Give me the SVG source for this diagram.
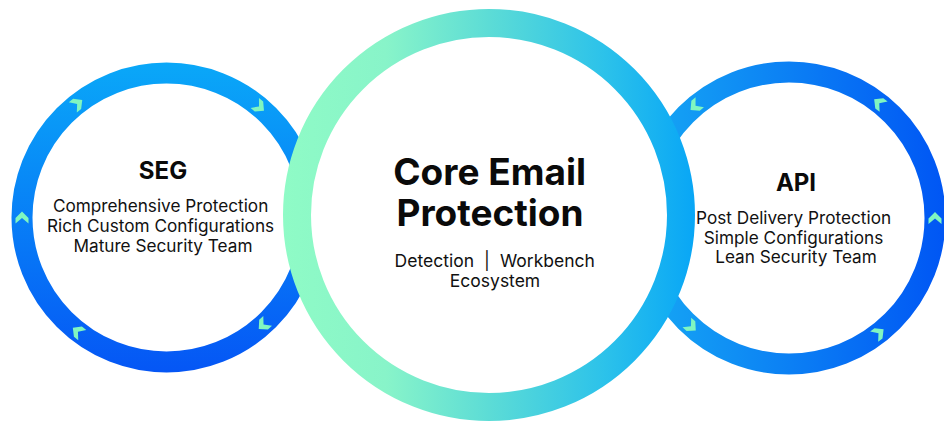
<svg xmlns="http://www.w3.org/2000/svg" width="944" height="421" viewBox="0 0 944 421">
  <defs>
    <linearGradient id="gLeft" x1="0" y1="62" x2="0" y2="373" gradientUnits="userSpaceOnUse">
      <stop offset="0" stop-color="#0aa8f8"/>
      <stop offset="1" stop-color="#0556f5"/>
    </linearGradient>
    <linearGradient id="gRight" x1="640" y1="0" x2="944" y2="0" gradientUnits="userSpaceOnUse">
      <stop offset="0" stop-color="#16a8f4"/>
      <stop offset="1" stop-color="#0056f4"/>
    </linearGradient>
    <linearGradient id="gCore" x1="283" y1="0" x2="695" y2="0" gradientUnits="userSpaceOnUse">
      <stop offset="0" stop-color="#8ffbc6"/>
      <stop offset="0.25" stop-color="#88f4c9"/>
      <stop offset="0.5" stop-color="#5cdcd6"/>
      <stop offset="0.78" stop-color="#2cc2ea"/>
      <stop offset="1" stop-color="#08a6f6"/>
    </linearGradient>
    <polygon id="chev" points="0,-6 6.5,0.5 6.5,6 0,0.5 -6.5,6 -6.5,0.5" fill="#80f6c0"/>
  </defs>
  <style>
    .ttl { font-family: Inter, "Liberation Sans", sans-serif; font-weight: 700; fill: #0a0a0a; text-anchor: middle; }
    .txt { font-family: Inter, "Liberation Sans", sans-serif; font-weight: 400; fill: #111111; }
    .mid { text-anchor: middle; }
    .end { text-anchor: end; }
    .start { text-anchor: start; }
  </style>

  <g id="seg">
    <circle cx="166.5" cy="217.5" r="144.5" fill="#ffffff" stroke="url(#gLeft)" stroke-width="21"/>
    <g transform="translate(166.5,217.5)">
      <use href="#chev" transform="rotate(-38) translate(0,-144.5) rotate(90)"/>
      <use href="#chev" transform="rotate(40) translate(0,-144.5) rotate(90)"/>
      <use href="#chev" transform="rotate(138) translate(0,-144.5) rotate(90)"/>
      <use href="#chev" transform="rotate(218) translate(0,-144.5) rotate(90)"/>
      <use href="#chev" transform="rotate(270) translate(0,-144.5) rotate(90)"/>
    </g>
    <text class="ttl" x="163" y="179" font-size="24">SEG</text>
    <text class="txt mid" font-size="17.2">
      <tspan x="163" y="212">Comprehensive Protection</tspan>
      <tspan x="163" y="232">Rich Custom Configurations</tspan>
      <tspan x="163" y="252">Mature Security Team</tspan>
    </text>
  </g>

  <g id="api">
    <circle cx="789" cy="218" r="146" fill="#ffffff" stroke="url(#gRight)" stroke-width="21"/>
    <g transform="translate(789,218)">
      <use href="#chev" transform="rotate(38) translate(0,-146) rotate(-90)"/>
      <use href="#chev" transform="rotate(-40) translate(0,-146) rotate(-90)"/>
      <use href="#chev" transform="rotate(142) translate(0,-146) rotate(-90)"/>
      <use href="#chev" transform="rotate(222) translate(0,-146) rotate(-90)"/>
      <use href="#chev" transform="rotate(90) translate(0,-146) rotate(-90)"/>
    </g>
    <text class="ttl" x="796" y="191" font-size="24">API</text>
    <text class="txt mid" font-size="17.2">
      <tspan x="796" y="224">Post Delivery Protection</tspan>
      <tspan x="796" y="244">Simple Configurations</tspan>
      <tspan x="796" y="263">Lean Security Team</tspan>
    </text>
  </g>

  <g id="core">
    <circle cx="489" cy="215" r="192" fill="#ffffff" stroke="url(#gCore)" stroke-width="28"/>
    <text class="ttl" font-size="37">
      <tspan x="494" y="185">Core Email</tspan>
      <tspan x="490" y="226">Protection</tspan>
    </text>
    <text class="txt end" x="474" y="267" font-size="17.5">Detection</text>
    <text class="txt mid" x="487" y="267" font-size="17.5">|</text>
    <text class="txt start" x="500" y="267" font-size="17.5">Workbench</text>
    <text class="txt mid" x="495" y="287" font-size="17.5">Ecosystem</text>
  </g>

  <g id="connectors"/>
</svg>
